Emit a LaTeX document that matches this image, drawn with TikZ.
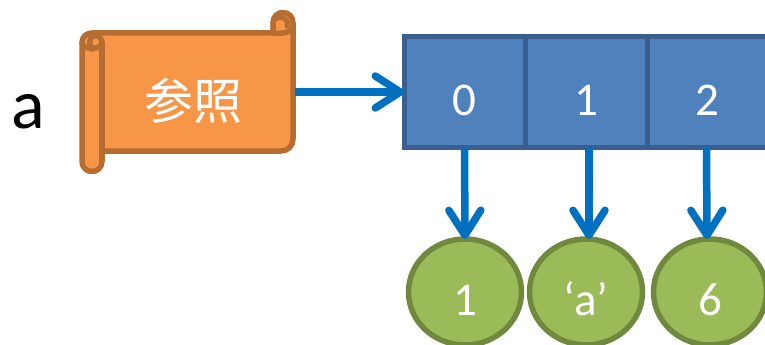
\documentclass[tikz,border=0pt]{standalone}
\usepackage{fontspec}
\setmainfont{Carlito}
\newfontfamily\cjk{Noto Sans CJK SC}
\usetikzlibrary{shapes.geometric,arrows.meta}
\definecolor{cellfill}{HTML}{4F81BD}
\definecolor{celldraw}{HTML}{3A5F8F}
\definecolor{valfill}{HTML}{9BBB59}
\definecolor{valdraw}{HTML}{71893F}
\definecolor{scrollfill}{HTML}{F79646}
\definecolor{scrolldraw}{HTML}{B66D31}
\definecolor{arrowblue}{HTML}{0070C0}
\newcommand{\lowtext}[1]{\raisebox{0pt}[46pt][0pt]{#1}}
\tikzset{
  cellbox/.style={draw=celldraw,fill=cellfill,line width=5pt,rectangle,minimum height=110pt,inner sep=0,outer sep=0,text=white,font=\fontsize{47}{47}\selectfont},
  valnode/.style={draw=valdraw,fill=valfill,line width=5.5pt,ellipse,minimum width=113pt,minimum height=106pt,inner sep=0,outer sep=0,text=white,font=\fontsize{47}{47}\selectfont},
  link/.style={draw=arrowblue,line width=7.5pt,-{Straight Barb[length=25pt,width=32pt,round]}},
  scrollline/.style={draw=scrolldraw,line width=5.5pt,line join=round,line cap=round}
}
\begin{document}
\begin{tikzpicture}[x=1pt,y=-1pt]
\useasboundingbox (0,0) rectangle (765,345);
\clip (0,0) rectangle (765,345);
% scroll
\path[scrollline,fill=scrollfill] (102,151) -- (281,151) .. controls (288,151) and (293,146) .. (293,139) -- (293,23)
  .. controls (293,9) and (273,9) .. (273,23) -- (273,33) -- (92,33)
  .. controls (86,33) and (82,37) .. (82,43) -- (82,161)
  .. controls (82,175) and (102,175) .. (102,161) -- cycle;
\path[scrollline,fill=scrollfill] (82,43) .. controls (82,50) and (102,50) .. (102,43) .. controls (102,33) and (88,33) .. (90,44) -- (92,49);
\draw[scrollline] (102,43) -- (102,161);
\draw[scrollline] (273,33) .. controls (280,34) and (293,33) .. (293,26);
\draw[scrollline,line width=5pt] (273,31) -- (273,22) .. controls (275,15) and (290,16) .. (287,26);
\node[inner sep=0,outer sep=0,minimum width=215pt,minimum height=120pt,text=white,font=\cjk\fontsize{49}{49}\selectfont] (scroll) at (187.5,92) {\hspace{11pt}\raisebox{0pt}[55pt][0pt]{参照}};
\node[inner sep=0,font=\fontsize{70}{70}\selectfont] (name) at (28,112) {a};
% cells
\node[cellbox,minimum width=121pt] (c0) at (464.5,92) {\lowtext{0}};
\node[cellbox,minimum width=122pt] (c1) at (586,92) {\lowtext{1}};
\node[cellbox,minimum width=121pt] (c2) at (707.5,92) {\lowtext{2}};
% values
\node[valnode] (v0) at (465,292) {\lowtext{1}};
\node[valnode] (v1) at (586,292) {\lowtext{‘a’}};
\node[valnode] (v2) at (710,292) {\lowtext{6}};
% connectors
\draw[link] (scroll.east) -- (c0.west);
\draw[link] (c0.south) -- (v0.north);
\draw[link] ([xshift=3pt]c1.south) -- ([xshift=3pt]v1.north);
\draw[link] ([xshift=-1pt]c2.south) -- ([xshift=-3pt]v2.north);
\end{tikzpicture}
\end{document}
